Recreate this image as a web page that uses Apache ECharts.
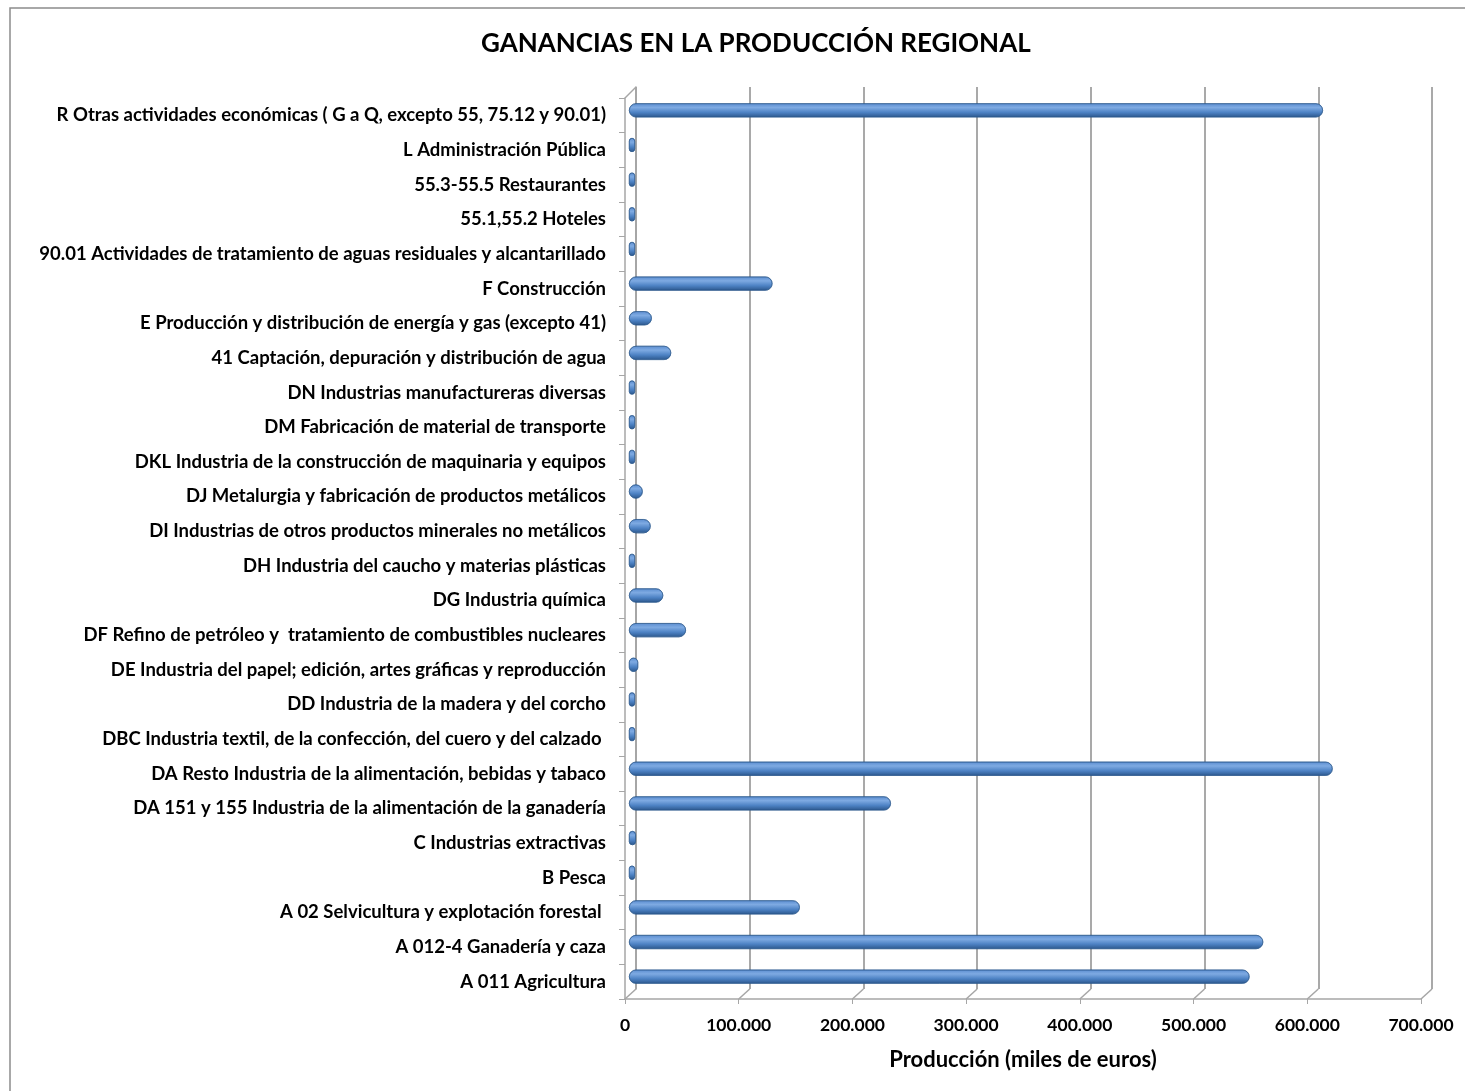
<!DOCTYPE html>
<html>
<head>
<meta charset="utf-8">
<script src="https://cdn.jsdelivr.net/npm/echarts@6/dist/echarts.min.js"></script>
<style>
  html, body { margin: 0; padding: 0; background: #fff; }
  #chart { width: 1465px; height: 1091px; }
</style>
</head>
<body>
<div id="chart"></div>
<script>
// categorias de abajo hacia arriba
const categories = [
  'A 011 Agricultura',
  'A 012-4 Ganadería y caza',
  'A 02 Selvicultura y explotación forestal ',
  'B Pesca',
  'C Industrias extractivas',
  'DA 151 y 155 Industria de la alimentación de la ganadería',
  'DA Resto Industria de la alimentación, bebidas y tabaco',
  'DBC Industria textil, de la confección, del cuero y del calzado ',
  'DD Industria de la madera y del corcho',
  'DE Industria del papel; edición, artes gráficas y reproducción',
  'DF Refino de petróleo y  tratamiento de combustibles nucleares',
  'DG Industria química',
  'DH Industria del caucho y materias plásticas',
  'DI Industrias de otros productos minerales no metálicos',
  'DJ Metalurgia y fabricación de productos metálicos',
  'DKL Industria de la construcción de maquinaria y equipos',
  'DM Fabricación de material de transporte',
  'DN Industrias manufactureras diversas',
  '41 Captación, depuración y distribución de agua',
  'E Producción y distribución de energía y gas (excepto 41)',
  'F Construcción',
  '90.01 Actividades de tratamiento de aguas residuales y alcantarillado',
  '55.1,55.2 Hoteles',
  '55.3-55.5 Restaurantes',
  'L Administración Pública',
  'R Otras actividades económicas ( G a Q, excepto 55, 75.12 y 90.01)'
];
const produccion = [
  545000, 557000, 150000, 1500, 6000, 230000, 618000, 1500, 4000, 8000,
  50000, 30000, 2500, 19000, 12000, 1500, 1500, 4000, 37000, 20000,
  126000, 3000, 2500, 5000, 1000, 609500
];
const xTicks = [0, 100000, 200000, 300000, 400000, 500000, 600000, 700000];

const FONT = 'Lato';
const fmtDots = v => String(v).replace(/\B(?=(\d{3})+(?!\d))/g, '.');

const chart = echarts.init(document.getElementById('chart'));
const barColor = new echarts.graphic.LinearGradient(0, 0, 0, 1, [
  { offset: 0, color: '#5b8dd0' },
  { offset: 0.3, color: '#7eaae2' },
  { offset: 0.65, color: '#4d82c4' },
  { offset: 1, color: '#2c578c' }
]);
const wallColor = '#a6a6a6';

chart.setOption({
  animation: false,
  backgroundColor: '#fff',
  title: {
    text: 'GANANCIAS EN LA PRODUCCIÓN REGIONAL',
    left: 476,
    top: 26,
    textStyle: { fontFamily: FONT, fontWeight: 'bold', fontSize: 26, color: '#000' }
  },
  grid: [
    // frente: etiquetas y ejes
    { left: 625, right: 44, top: 98, height: 901 },
    // pared del fondo: lineas de division
    { left: 636, right: 33, top: 87, height: 902 },
    // barras, a media profundidad
    { left: 629, right: 39, top: 93, height: 901 }
  ],
  xAxis: [
    {
      gridIndex: 0, type: 'value', min: 0, max: 700000, interval: 100000,
      axisLine: { show: true, lineStyle: { color: wallColor, width: 1.5 } },
      axisTick: { show: true, length: 5, lineStyle: { color: wallColor } },
      splitLine: { show: false },
      axisLabel: {
        margin: 17, color: '#000', fontFamily: FONT, fontWeight: 'bold', fontSize: 17.5,
        formatter: v => fmtDots(v)
      },
      name: 'Producción (miles de euros)',
      nameLocation: 'middle', nameGap: 50,
      nameTextStyle: { color: '#000', fontFamily: FONT, fontWeight: 'bold', fontSize: 22 }
    },
    {
      gridIndex: 1, type: 'value', min: 0, max: 700000, interval: 100000,
      axisLine: { show: false }, axisTick: { show: false }, axisLabel: { show: false },
      splitLine: { show: true, lineStyle: { color: '#8c8c8c', width: 1.5 } }
    },
    {
      gridIndex: 2, type: 'value', min: 0, max: 700000, interval: 100000, show: false
    }
  ],
  yAxis: [
    {
      gridIndex: 0, type: 'category', data: categories,
      axisLine: { show: true, lineStyle: { color: wallColor, width: 1.5 } },
      axisTick: { show: true, length: 6, lineStyle: { color: wallColor } },
      axisLabel: {
        margin: 19, color: '#000', fontFamily: FONT, fontWeight: 'bold', fontSize: 18.5
      }
    },
    {
      gridIndex: 1, type: 'category', data: categories,
      axisLine: { show: true, lineStyle: { color: wallColor, width: 1.5 } },
      axisTick: { show: false }, axisLabel: { show: false }
    },
    {
      gridIndex: 2, type: 'category', data: categories, show: false
    }
  ],
  series: [
    {
      type: 'bar', xAxisIndex: 2, yAxisIndex: 2,
      data: produccion,
      barWidth: 14,
      barMinHeight: 6,
      itemStyle: {
        color: barColor,
        borderRadius: 7,
        borderColor: '#2e5a8e', borderWidth: 0.6
      }
    }
  ]
});

// perspectiva: lineas oblicuas del suelo y de la pared, ligadas a los ejes
const floor = xTicks.map(v => {
  const back = chart.convertToPixel({ xAxisIndex: 1 }, v);
  const front = chart.convertToPixel({ xAxisIndex: 0 }, v);
  return {
    type: 'line', silent: true,
    shape: { x1: back, y1: 989, x2: front, y2: 999 },
    style: { stroke: wallColor, lineWidth: 1.5 }
  };
});
const x0f = chart.convertToPixel({ xAxisIndex: 0 }, 0);
const x0b = chart.convertToPixel({ xAxisIndex: 1 }, 0);
chart.setOption({
  graphic: [
    {
      type: 'rect', silent: true,
      shape: { x: 10, y: 8, width: 1470, height: 1100 },
      style: { fill: null, stroke: '#8c8c8c', lineWidth: 1.5 }
    },
    {
      type: 'line', silent: true,
      shape: { x1: x0f, y1: 98, x2: x0b, y2: 87 },
      style: { stroke: wallColor, lineWidth: 1.5 }
    }
  ].concat(floor)
});
</script>
</body>
</html>
